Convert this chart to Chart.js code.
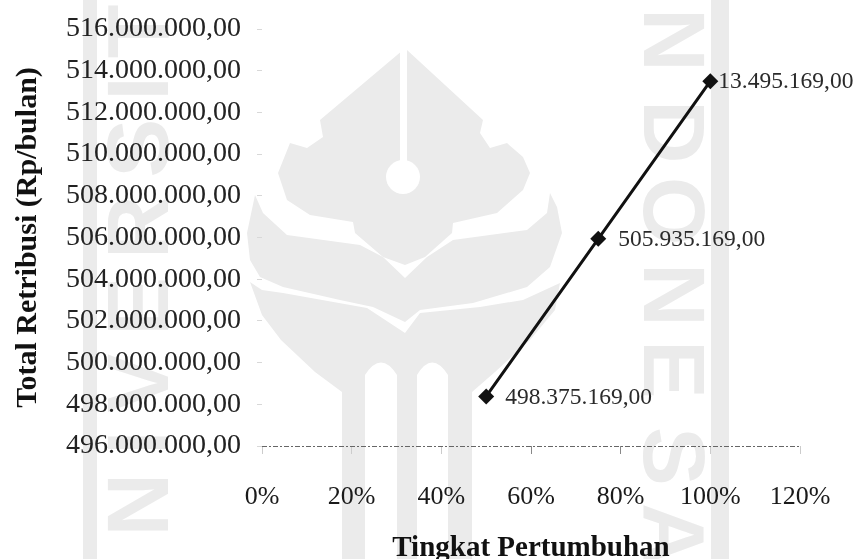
<!DOCTYPE html>
<html>
<head>
<meta charset="utf-8">
<style>
  html, body { margin: 0; padding: 0; background: #fff; }
  #wrap { position: relative; width: 856px; height: 559px; overflow: hidden; }
  #crest { position: absolute; left: 0; top: 0; }
  #chart { position: absolute; left: 0; top: 0; }
</style>
<script src="https://cdn.jsdelivr.net/npm/chart.js@4/dist/chart.umd.min.js"></script>
</head>
<body>
<div id="wrap">
  <!-- Pale university crest printed behind the chart -->
  <svg id="crest" width="856" height="559" viewBox="0 0 856 559">
    <g fill="#ebebeb">
      <path d="M403 50L320 120L323 137L307 148L290 143L278 173L287 200L310 215L353 222L355 233L383 257L405 265L425 257L452 233L453 223L497 213L523 190L530 173L523 157L507 143L490 148L480 133L483 120L407 50Z"/>
      <path d="M255 195L247 233L250 260L260 277L283 287L340 300L373 307L405 322L420 310L473 303L527 287L550 267L562 233L557 207L550 193L547 213L527 230L453 240L427 257L405 278L383 257L360 245L287 235L263 213Z"/>
      <path d="M250 282L262 290L283 293L367 308L405 333L420 313L480 307L523 300L560 283L555 310L530 340L495 372L472 392L472 559L448 559L448 375Q432 350 417 375L417 559L397 559L397 375Q381 350 365 375L365 559L342 559L342 392L315 372L281 340L262 315Z"/>
      <rect x="711" y="0" width="18" height="559"/>
      <rect x="83" y="0" width="14" height="559"/>
      <g font-family="Liberation Sans" font-weight="bold" font-size="88">
        <text transform="translate(644 0) rotate(90)" x="8 100 177 263 340 427 503">NDONESA</text>
        <text transform="translate(168 618) rotate(-90)" letter-spacing="18">UNIVERSITAS</text>
      </g>
    </g>
    <rect x="400" y="50" width="7" height="112" fill="#fff"/>
    <circle cx="403" cy="177" r="17" fill="#fff"/>
  </svg>
  <canvas id="chart" width="856" height="559"></canvas>
</div>
<script>
// Projected monthly levy revenue against growth level
const growthLevels = [50, 75, 100];
const totalLevy = [498375169, 505935169, 513495169];
const pointLabels = ['498.375.169,00', '505.935.169,00', '13.495.169,00'];
const pointLabelOffsets = [19, 20, 8];

const serif = '"Liberation Serif", "Times New Roman", serif';
const rupiah = new Intl.NumberFormat('de-DE', { minimumFractionDigits: 2, maximumFractionDigits: 2 });

// Writes each value beside its marker
const pointLabelPlugin = {
  id: 'pointLabels',
  afterDatasetsDraw(chart) {
    const { ctx } = chart;
    ctx.save();
    ctx.font = '23.5px ' + serif;
    ctx.fillStyle = '#2a2a2a';
    ctx.textBaseline = 'middle';
    ctx.textAlign = 'left';
    chart.getDatasetMeta(0).data.forEach((pt, i) => {
      ctx.fillText(pointLabels[i], pt.x + pointLabelOffsets[i], pt.y + 1);
    });
    ctx.restore();
  }
};

// The horizontal axis is a broken grey rule rather than a solid border
const dashedAxisPlugin = {
  id: 'dashedAxis',
  beforeDatasetsDraw(chart) {
    const { ctx, chartArea } = chart;
    ctx.save();
    ctx.strokeStyle = '#666';
    ctx.lineWidth = 1;
    ctx.setLineDash([5, 2, 2, 2]);
    ctx.beginPath();
    ctx.moveTo(chartArea.left, chartArea.bottom + 0.5);
    ctx.lineTo(chartArea.right, chartArea.bottom + 0.5);
    ctx.stroke();
    ctx.restore();
  }
};

new Chart(document.getElementById('chart'), {
  type: 'line',
  data: {
    datasets: [{
      data: growthLevels.map((g, i) => ({ x: g, y: totalLevy[i] })),
      borderColor: '#111',
      backgroundColor: '#111',
      borderWidth: 3,
      tension: 0,
      pointStyle: 'rectRot',
      pointRadius: 8,
      pointBorderWidth: 0
    }]
  },
  plugins: [dashedAxisPlugin, pointLabelPlugin],
  options: {
    responsive: false,
    animation: false,
    layout: { padding: { top: 29, right: 56, bottom: 0, left: 0 } },
    plugins: { legend: { display: false }, tooltip: { enabled: false } },
    scales: {
      x: {
        type: 'linear',
        min: 0,
        max: 120,
        afterFit(s) { s.height = 113; s.paddingLeft = 0; s.paddingRight = 0; },
        border: { display: false },
        grid: {
          drawOnChartArea: false,
          color: c => (c.tick && (c.tick.value === 60 || c.tick.value === 80)) ? '#888' : '#ccc',
          tickLength: 8
        },
        ticks: {
          stepSize: 20,
          maxRotation: 0,
          padding: 28,
          color: '#1a1a1a',
          font: { family: serif, size: 26 },
          callback: v => v + '%'
        },
        title: {
          display: true,
          text: 'Tingkat Pertumbuhan',
          color: '#111',
          font: { family: serif, size: 29, weight: 'bold', lineHeight: 0.85 },
          padding: { top: 0, bottom: -2 }
        }
      },
      y: {
        min: 496000000,
        max: 516000000,
        afterFit(s) { s.width = 262; s.paddingTop = 0; s.paddingBottom = 0; },
        border: { display: false },
        grid: { drawOnChartArea: false, color: '#d8d8d8', tickLength: 5 },
        ticks: {
          stepSize: 2000000,
          padding: 16,
          color: '#222',
          font: { family: serif, size: 28 },
          callback: v => rupiah.format(v)
        },
        title: {
          display: true,
          text: 'Total Retribusi (Rp/bulan)',
          color: '#111',
          font: { family: serif, size: 30, weight: 'bold' },
          padding: { top: 10, bottom: 0 }
        }
      }
    }
  }
});
</script>
</body>
</html>
